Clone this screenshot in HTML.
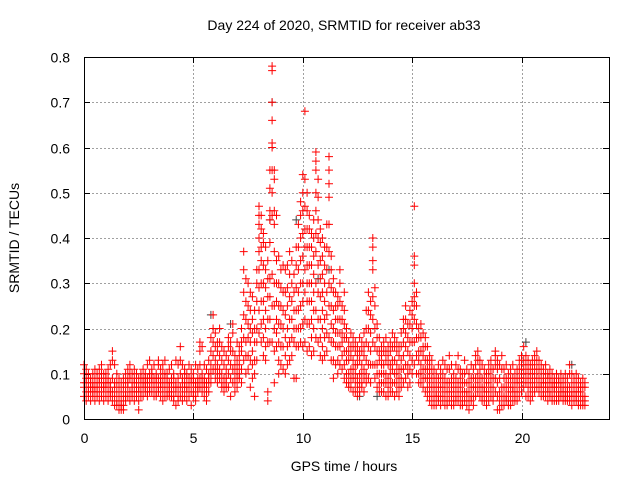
<!DOCTYPE html>
<html><head><meta charset="utf-8"><style>
html,body{margin:0;padding:0;background:#fff}
svg{display:block;font-family:"Liberation Sans",sans-serif}
</style></head><body>
<svg id="chart" width="640" height="480">
<rect x="0" y="0" width="640" height="480" fill="#fff"/>
<g id="grid"></g>
<g id="ticks"></g>
<g id="gray"></g>
<g id="red"></g>
<rect x="84.5" y="57.5" width="525" height="362" fill="none" stroke="#000" stroke-width="1"/>
<text x="344" y="30" font-size="14" text-anchor="middle">Day 224 of 2020, SRMTID for receiver ab33</text>
<text x="344" y="471" font-size="14" text-anchor="middle">GPS time / hours</text>
<text transform="translate(19,238) rotate(-90)" font-size="14" text-anchor="middle">SRMTID / TECUs</text>
</svg>
<script>
const xTicks = [0,5,10,15,20];
const yTicks = [0,0.1,0.2,0.3,0.4,0.5,0.6,0.7,0.8];
const yTickLabels = ["0","0.1","0.2","0.3","0.4","0.5","0.6","0.7","0.8"];
const sampleStartHour = 0;
const sampleStepHours = 0.1;
// SRMTID values in hundredths of TECU, grouped per 0.1 h sample
const tecHundredths = [
[12,8,7,10,5],[11,6,9,4,8],[9,5,7,10,6],[8,6,4,9,7],[10,7,5,8,6],[9,4,6,11,7],[8,5,10,7,6],[11,9,6,4,8],[12,7,5,9,10],[10,6,8,4,7],
[9,7,5,10,8],[11,6,4,8,9],[8,5,7,12,6],[15,13,9,6,4],[12,8,5,3,7],[10,6,4,8,3],[7,3,2,5,9],[6,2,4,8,3],[9,5,3,7,2],[10,6,4,8,5],
[11,7,5,9,8],[12,9,6,4,10],[10,7,5,8,6],[9,6,8,4,11],[8,5,7,10,6],[9,7,4,6,2],[10,8,6,9,5],[11,7,5,8,9],[9,6,8,10,7],[12,8,6,9,5],
[13,10,7,9,6],[11,8,6,9,10],[12,9,7,5,8],[10,8,6,9,5],[13,12,9,7,6],[11,7,5,9,8],[12,10,6,8,4],[13,9,7,5,10],[10,8,6,9,5],[11,7,5,8,6],
[12,9,6,8,5],[10,7,5,9,4],[13,8,6,3,7],[12,9,5,7,4],[16,13,10,7,5],[12,9,6,8,4],[11,8,5,7,10],[10,7,4,9,6],[12,9,7,5,8],[11,6,8,9,3],
[10,8,6,5,9],[12,7,5,8,4],[11,9,6,8,7],[17,15,12,9,7],[16,10,8,6,9],[12,9,7,5,8],[11,8,6,4,7],[13,10,8,6,9],[18,15,12,10,8],[23,20,17,14,11],
[19,16,13,11,9],[17,15,12,10,8],[20,17,14,11,9],[16,13,10,8,7],[15,12,9,7,6],[14,11,9,7,8],[18,16,13,10,7],[17,15,12,9,5],[21,19,15,11,8],[14,12,10,8,6],
[17,13,11,9,7],[16,12,9,10,14],[20,17,15,11,8],[37,33,28,23,18,13],[31,26,22,17,14,10],[30,25,21,18,14,11],[28,24,20,17,13,7],[27,22,19,15,12,9],[24,20,17,13,10,5],[33,30,26,20,17,13],
[47,45,43,40,37,33,29,24,19],[45,42,38,35,30,26,21,17],[41,39,34,30,26,22,18,14],[38,33,29,24,20,16,13],[35,31,27,22,17,6,4],[55,51,46,44,39,31,27,22,17],[78,77,70,66,61,60,55,50,45,32,25,17],[55,53,46,43,37,30,25,20,15,8],[45,35,30,26,22,19,16],[36,30,25,21,17,13,10],
[33,29,25,21,16,12],[34,28,24,20,16,11],[33,28,23,18,14,10],[34,29,25,20,16,12],[37,32,27,22,17,13],[35,30,26,22,18,14],[32,28,24,20,17,9],[38,34,29,24,20,16,9],[43,38,33,28,24,20,16],[48,45,40,35,30,25,20,17],
[54,50,46,41,36,30,26,21,16],[68,53,47,42,38,33,28,22,17],[50,46,42,38,34,30,26,21,15],[45,42,38,34,30,26,21,16],[41,38,34,30,26,22,18,14],[44,40,36,32,28,24,20,15],[59,57,55,50,46,41,37,30,24,18],[53,49,44,40,34,28,22,17],[42,39,35,31,27,22,18,14],[40,36,32,28,24,20,16,13],
[38,34,30,26,22,18,14],[43,38,33,28,23,19,15],[58,55,52,49,43,37,30,25,18],[36,33,29,25,21,17,13],[31,28,24,20,17,13,9],[28,25,22,19,16,12],[27,25,22,19,16,13,10],[33,30,26,22,19,16,12],[25,22,19,17,14,11],[28,24,21,18,15,12,9],
[20,18,15,13,10,8],[17,15,13,10,8,7],[19,16,14,11,9,7],[18,16,13,11,9,6],[17,15,12,10,8,6],[16,14,12,9,7,5],[18,15,13,10,8,6],[17,15,12,10,8,7],[19,16,14,11,9,6],[24,20,17,13,10,8],
[28,24,20,16,12,9],[26,23,19,15,12,8],[40,38,35,33,27,22,17,12],[29,25,20,16,12,9],[21,18,15,12,10,7],[18,15,13,10,8,6],[16,14,12,10,8,6],[17,15,12,10,8,6],[18,15,13,10,8,5],[16,14,12,9,7,5],
[17,15,12,10,8,6],[19,16,13,11,8,6],[18,16,13,10,8,5],[17,15,12,10,8,6],[16,14,11,9,7,5],[19,16,13,11,9,7],[22,20,17,14,11,8],[25,22,19,16,12,9],[21,18,15,12,10,7],[24,21,17,14,11,8],
[26,23,20,17,13,10],[47,36,34,30,27,25,22,17,12],[28,25,21,18,14,10],[20,18,15,13,10,8],[21,18,15,12,10,8],[19,16,14,11,9,7],[18,16,13,11,9,6],[16,13,11,9,7,5],[14,12,10,8,6,4],[13,11,9,7,5,3],
[11,9,7,5,4,3],[10,8,6,5,3],[12,9,7,5,4],[11,9,7,5,3],[13,10,8,6,4],[12,9,7,5,3],[11,8,6,4,3],[14,11,8,6,4],[12,9,7,5,3],[10,8,6,4,3],
[12,9,7,5,4],[14,11,8,6,4],[11,9,7,5,3],[10,8,6,4,3],[13,10,8,6,4],[11,8,6,5,3],[10,8,6,4,2],[12,9,7,5,4],[11,9,7,5,3],[14,12,9,7,5],
[15,13,10,8,6],[13,11,9,7,5],[12,9,7,5,4],[11,9,7,6,4],[10,8,6,5,3],[12,10,8,6,4],[13,11,9,7,5],[11,9,7,5,4],[15,14,12,9,6],[13,11,8,5,2],
[12,9,6,4,2],[14,11,7,5,3],[11,9,7,5,3],[12,9,7,5,4],[10,8,6,4,3],[11,9,7,5,3],[12,9,7,6,4],[10,8,6,5,4],[11,9,8,6,4],[13,11,9,7,5],
[14,12,10,8,6],[16,13,11,9,7],[14,12,10,8,5],[13,11,9,7,5],[12,10,8,6,4],[13,11,9,7,5],[14,12,10,8,6],[15,13,11,9,7],[13,11,9,7,6],[12,10,8,7,5],
[11,9,8,6,5],[12,10,8,7,5],[10,9,7,6,4],[11,9,8,6,5],[10,8,7,5,4],[9,8,7,6,4],[10,8,7,5,4],[9,8,6,5,4],[10,8,7,6,5],[9,7,6,5,4],
[10,8,6,5,4],[9,7,6,5,4],[12,10,7,5,4],[10,8,6,5,3],[9,7,6,5,4],[10,8,6,5,4],[9,7,6,4,3],[8,7,6,5,3],[9,7,5,4,3],[8,7,5,4,3]
];
const grayHours = [5.8,6.7,8.5,8.6,9.7,10.7,11.2,12.6,13.4,20.2,22.3];
const grayTec = [0.23,0.21,0.44,0.70,0.44,0.31,0.33,0.05,0.05,0.17,0.12];

const X0=84, X1=609, Y0=419, Y1=57, XMAX=24, YMAX=0.8;
function xs(h){return X0+(X1-X0)*h/XMAX;}
function ys(v){return Y0-(Y0-Y1)*v/YMAX;}
const NS="http://www.w3.org/2000/svg";
const grid=document.getElementById('grid'), ticks=document.getElementById('ticks');
function mk(tag,attrs,parent){const e=document.createElementNS(NS,tag);for(const k in attrs)e.setAttribute(k,attrs[k]);parent.appendChild(e);return e;}
xTicks.forEach(t=>{
  const x=Math.round(xs(t))+0.5;
  if(t>0){const g=mk('line',{x1:x,y1:Y0,x2:x,y2:Y1,stroke:'#a0a0a0','stroke-dasharray':'2,2'},grid);
  
  }
  mk('line',{x1:x,y1:Y0,x2:x,y2:Y0-6,stroke:'#000'},ticks);
  mk('line',{x1:x,y1:Y1,x2:x,y2:Y1+6,stroke:'#000'},ticks);
  const l=mk('text',{x:x,y:Y0+24,'font-size':14,'text-anchor':'middle'},ticks);
  l.textContent=String(t);
  
  
});
yTicks.forEach((t,i)=>{
  const y=Math.round(ys(t))+0.5;
  if(t>0&&t<YMAX){const g=mk('line',{x1:X0,y1:y,x2:X1,y2:y,stroke:'#a0a0a0','stroke-dasharray':'2,2'},grid);
  
  }
  mk('line',{x1:X0,y1:y,x2:X0+6,y2:y,stroke:'#000'},ticks);
  mk('line',{x1:X1,y1:y,x2:X1-6,y2:y,stroke:'#000'},ticks);
  const l=mk('text',{x:X0-14,y:y+5,'font-size':14,'text-anchor':'end'},ticks);
  l.textContent=yTickLabels[i];
  
  
});
function cross(h,v,color,parent){
  const x=xs(h), y=ys(v);
  const p=mk('path',{d:`M${(x-4).toFixed(1)} ${y.toFixed(1)}h8M${x.toFixed(1)} ${(y-4).toFixed(1)}v8`,stroke:color,'stroke-width':1,fill:'none'},parent);
  
  
}
const grayG=document.getElementById('gray'), redG=document.getElementById('red');
grayHours.forEach((h,i)=>cross(h,grayTec[i],'#404040',grayG));
tecHundredths.forEach((grp,i)=>{
  const h=sampleStartHour+i*sampleStepHours;
  grp.forEach(v=>cross(h,v/100,'#ff0000',redG));
});
</script>
</body></html>
